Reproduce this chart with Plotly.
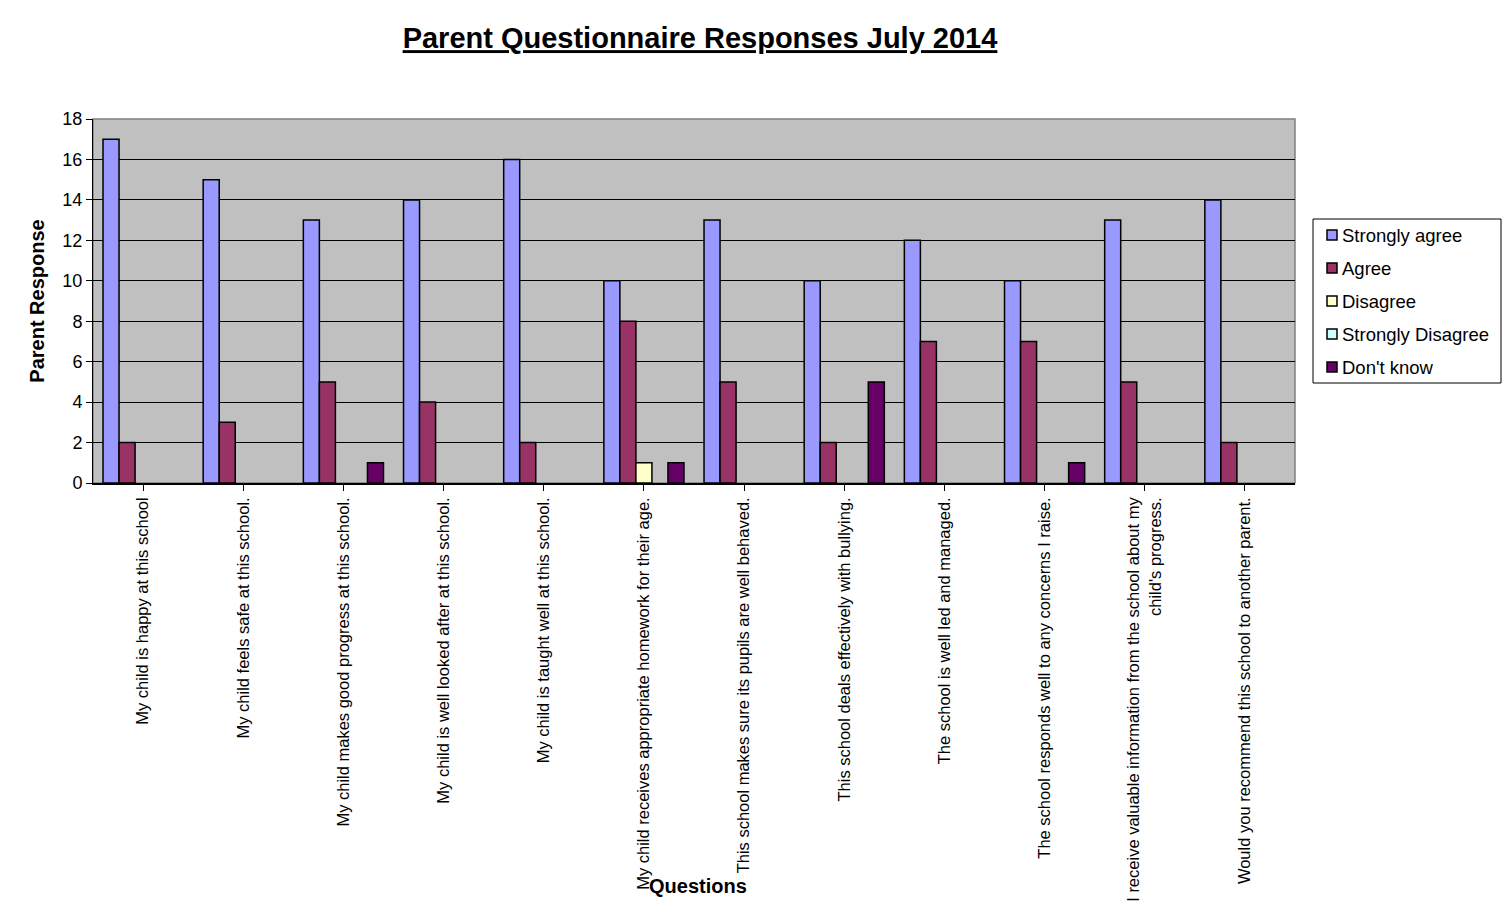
import plotly.graph_objects as go

questions = [
    "My child is happy at this school",
    "My child feels safe at this school.",
    "My child makes good progress at this school.",
    "My child is well looked after at this school.",
    "My child is taught well at this school.",
    "My child receives appropriate homework for their age.",
    "This school makes sure its pupils are well behaved.",
    "This school deals effectively with bullying.",
    "The school is well led and managed.",
    "The school responds well to any concerns I raise.",
    "I receive valuable information from the school about my<br>child's progress.",
    "Would you recommend this school to another parent.",
]
strongly_agree = [17, 15, 13, 14, 16, 10, 13, 10, 12, 10, 13, 14]
agree = [2, 3, 5, 4, 2, 8, 5, 2, 7, 7, 5, 2]
disagree = [0, 0, 0, 0, 0, 1, 0, 0, 0, 0, 0, 0]
strongly_disagree = [0, 0, 0, 0, 0, 0, 0, 0, 0, 0, 0, 0]
dont_know = [0, 0, 1, 0, 0, 1, 0, 5, 0, 1, 0, 0]

series_names = ["Strongly agree", "Agree", "Disagree", "Strongly Disagree", "Don't know"]
series_values = [strongly_agree, agree, disagree, strongly_disagree, dont_know]
series_colors = ["#9999FF", "#993366", "#FFFFCC", "#CCFFFF", "#660066"]

FONT = "Liberation Sans, Arial, sans-serif"

# page has an 8px body margin; plot area spans x 93..1295, y 119..483 in the window
OFF = 8
W, H = 1510 - 2 * OFF, 923 - 2 * OFF
PX0, PX1, PY0, PY1 = 93, 1295, 119, 483


def px(x):
    return (x - PX0) / (PX1 - PX0)


def py(y):
    return (PY1 - y) / (PY1 - PY0)


fig = go.Figure()
for name, vals, col in zip(series_names, series_values, series_colors):
    fig.add_trace(go.Bar(
        name=name, x=list(range(len(questions))), y=vals,
        marker=dict(color=col,
                    line=dict(color="black", width=[1.5 if v else 0 for v in vals])),
        showlegend=False,
    ))

fig.update_layout(
    width=W, height=H,
    margin=dict(l=PX0 - OFF, r=OFF + W - PX1, t=PY0 - OFF, b=OFF + H - PY1, autoexpand=False),
    paper_bgcolor="white", plot_bgcolor="#C0C0C0",
    barmode="group", bargap=0.2, bargroupgap=0,
    font=dict(family=FONT, color="black"),
    title=dict(text="<b><u>Parent Questionnaire Responses July 2014</u></b>",
               x=(700 - OFF) / W, xanchor="center", y=1 - (38 - OFF) / H, yanchor="middle",
               font=dict(size=29, family=FONT)),
    showlegend=False,
)

fig.update_xaxes(
    tickmode="array", tickvals=list(range(len(questions))), ticktext=questions,
    tickangle=-90, tickfont=dict(size=16.5, family=FONT),
    range=[-0.5, len(questions) - 0.5],
    showline=True, linecolor="black", linewidth=1.5, mirror=False,
    ticks="outside", ticklen=6, tickcolor="black", tickson="boundaries",
    showgrid=False,
)
fig.update_yaxes(
    range=[0, 18], dtick=2, tickfont=dict(size=18, family=FONT),
    showline=True, linecolor="black", linewidth=1,
    ticks="outside", ticklen=6, tickcolor="black",
    showgrid=True, gridcolor="black", gridwidth=1, zeroline=False,
    title=dict(text="<b>Parent Response</b>", font=dict(size=20, family=FONT), standoff=12),
)

# border of plot area (top & right gray)
fig.add_shape(type="rect", xref="paper", yref="paper", x0=0, x1=1, y0=0, y1=1,
              line=dict(color="#808080", width=1.5), layer="below")

fig.add_annotation(text="<b>Questions</b>", xref="paper", yref="paper",
                   x=px(698), y=py(886), xanchor="center", yanchor="middle",
                   showarrow=False, font=dict(size=20, family=FONT))

# legend box drawn manually to match the original layout
fig.add_shape(type="rect", xref="paper", yref="paper",
              x0=px(1313), x1=px(1501), y0=py(383), y1=py(219),
              line=dict(color="black", width=1), fillcolor="white")
for i, (name, col) in enumerate(zip(series_names, series_colors)):
    yc = 235 + 33 * i
    fig.add_shape(type="rect", xref="paper", yref="paper",
                  x0=px(1327), x1=px(1337), y0=py(yc + 5), y1=py(yc - 5),
                  line=dict(color="black", width=1.5), fillcolor=col)
    fig.add_annotation(text=name, xref="paper", yref="paper",
                       x=px(1340), y=py(yc), xanchor="left", yanchor="middle",
                       showarrow=False, font=dict(size=18.5, family=FONT))

fig.write_html("out.html")
